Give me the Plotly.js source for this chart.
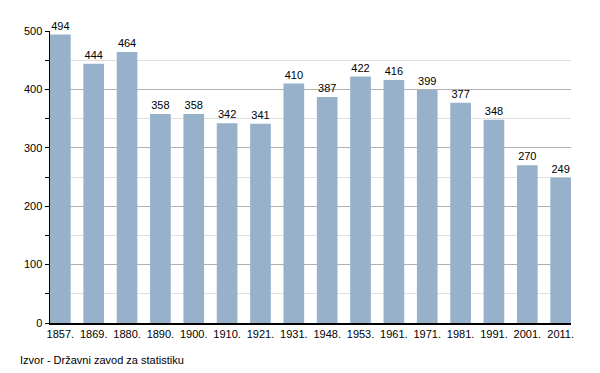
<!DOCTYPE html>
<html><head><meta charset="utf-8">
<script src="https://cdn.plot.ly/plotly-3.0.1.min.js"></script>
<style>body{margin:0;padding:0;background:#fff}#chart{width:600px;height:373px}</style>
</head><body><div id="chart"></div>
<script>
const years = ["1857.","1869.","1880.","1890.","1900.","1910.","1921.","1931.","1948.","1953.","1961.","1971.","1981.","1991.","2001.","2011."];
const population = [494,444,464,358,358,342,341,410,387,422,416,399,377,348,270,249];
const sourceText = "Izvor - Državni zavod za statistiku";

const barFrac = 0.62;
const trace = {
  type: "bar", x: years, y: population,
  text: population.map(String), textposition: "outside", cliponaxis: false, constraintext: "none",
  textfont: {family: "Liberation Sans, Arial, sans-serif", size: 11, color: "#000"},
  marker: {color: "#98b1cb"}, hoverinfo: "x+y"
};
const layout = {
  width: 600, height: 373,
  margin: {l: 50, r: 29, t: 31, b: 50},
  paper_bgcolor: "#fff", plot_bgcolor: "#fff",
  bargap: 1 - barFrac,
  font: {family: "Liberation Sans, Arial, sans-serif", size: 11, color: "#000"},
  showlegend: false,
  xaxis: {type: "category", range: [-barFrac/2, years.length - 1 + barFrac/2],
    showline: true, linecolor: "#000", linewidth: 1.5, ticks: "", tickfont: {size: 11}, fixedrange: true},
  yaxis: {range: [0, 500], dtick: 100, showgrid: true, gridcolor: "#b0b0b0", gridwidth: 1,
    showline: true, linecolor: "#000", linewidth: 1.5, ticks: "outside", ticklen: 4, tickcolor: "#000",
    zeroline: false, tickfont: {size: 11},
    minor: {dtick: 50, showgrid: true, gridcolor: "#e0e0e0", ticks: "outside", ticklen: 4, tickcolor: "#000"}},
  annotations: [{text: sourceText, xref: "paper", yref: "paper", x: -32/521, y: -37/292,
    xanchor: "left", yanchor: "middle", showarrow: false, font: {size: 11, color: "#000"}}]
};
Plotly.newPlot("chart", [trace], layout, {displayModeBar: false, staticPlot: true});
</script></body></html>
